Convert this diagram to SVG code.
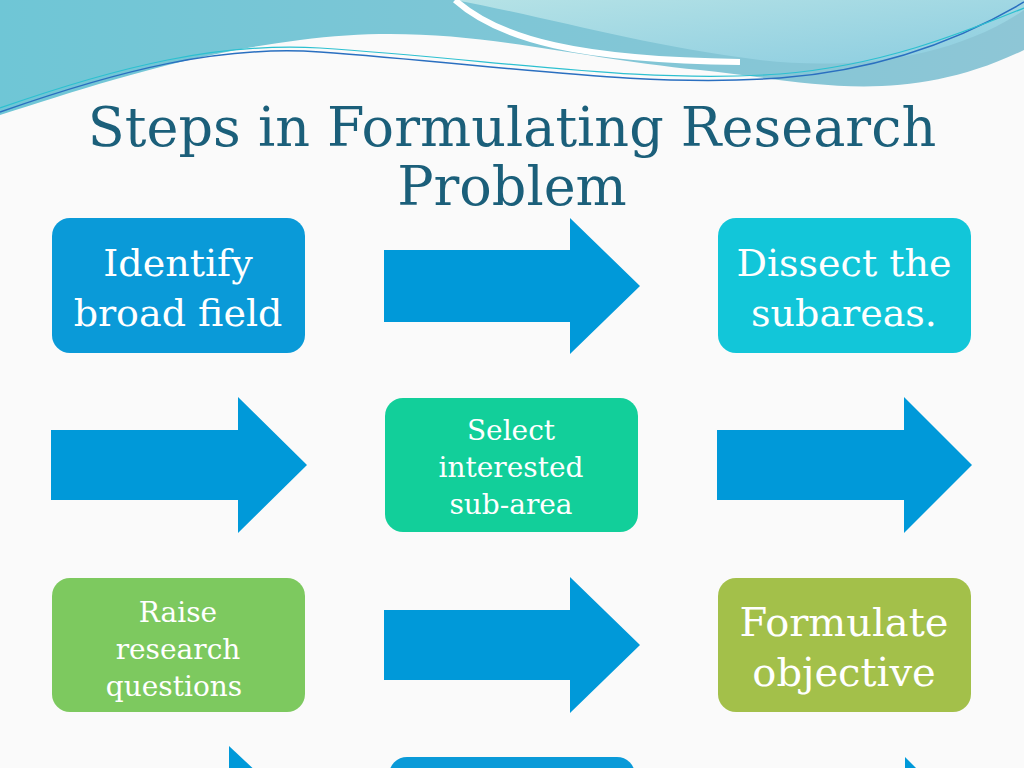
<svg xmlns="http://www.w3.org/2000/svg" width="1024" height="768" viewBox="0 0 1024 768">
<defs>
<linearGradient id="w1" x1="0" y1="0" x2="1" y2="0"><stop offset="0" stop-color="#6fc6d6"/><stop offset="1" stop-color="#8ec6d6"/></linearGradient>
<linearGradient id="w2" x1="0" y1="0" x2="1" y2="1"><stop offset="0" stop-color="#b5e2e6"/><stop offset="1" stop-color="#8ccde0"/></linearGradient>
<style>
.t{font-family:"DejaVu Serif","Liberation Serif",serif;fill:#fff;text-anchor:middle}
.ar{fill:#0099d9}
</style>
</defs>
<rect width="1024" height="768" fill="#fafafa"/>
<g id="bg">
<path d="M0,0 H1024 V50 C900,110 800,80 700,70 C550,55 450,20 300,40 C180,55 80,90 0,115 Z" fill="url(#w1)"/>
<path d="M455,0 H1024 V10 C950,60 850,70 760,60 C640,45 560,20 455,0 Z" fill="url(#w2)"/>
<path d="M455,0 C500,40 580,60 740,62" fill="none" stroke="#fff" stroke-width="6"/>
<path d="M0,112 C120,70 220,45 320,52 C500,65 640,88 780,78 C880,70 960,40 1024,2" fill="none" stroke="#2a6fc0" stroke-width="1.5"/>
<path d="M0,108 C120,66 220,42 320,48 C500,60 640,84 780,74 C880,66 960,34 1024,8" fill="none" stroke="#2cc0d0" stroke-width="1.2"/>
</g>
<g id="title" font-family="DejaVu Serif,Liberation Serif,serif" fill="#1b5f7a" text-anchor="middle" font-size="54">
<text x="512" y="146">Steps in Formulating Research</text>
<text x="512" y="205">Problem</text>
</g>
<g id="connectors">
<path class="ar" d="M384,250 H570 V218 L640,286 L570,354 V322 H384 Z"/>
<path class="ar" d="M51,430 H238 V397 L307,465 L238,533 V500 H51 Z"/>
<path class="ar" d="M717,430 H904 V397 L972,465 L904,533 V500 H717 Z"/>
<path class="ar" d="M384,610 H570 V577 L640,645 L570,713 V680 H384 Z"/>
<path class="ar" d="M229,746 L260,775 H229 Z"/>
<path class="ar" d="M905,757 L918,770 H905 Z"/>
</g>
<g id="n1"><rect x="52" y="218" width="253" height="135" rx="18" fill="#0a9ad8"/>
<text class="t" font-size="38" x="178" y="276">Identify</text><text class="t" font-size="38" x="178" y="326">broad field</text></g>
<g id="n2"><rect x="718" y="218" width="253" height="135" rx="18" fill="#12c6d9"/>
<text class="t" font-size="38" x="844" y="276">Dissect the</text><text class="t" font-size="38" x="844" y="326">subareas.</text></g>
<g id="n3"><rect x="385" y="398" width="253" height="134" rx="18" fill="#12cf9a"/>
<text class="t" font-size="28" x="511" y="440">Select</text><text class="t" font-size="28" x="511" y="477">interested</text><text class="t" font-size="28" x="511" y="514">sub-area</text></g>
<g id="n4"><rect x="52" y="578" width="253" height="134" rx="18" fill="#7dc95f"/>
<text class="t" font-size="28" x="178" y="622">Raise</text><text class="t" font-size="28" x="178" y="659">research</text><text class="t" font-size="28" x="174" y="696">questions</text></g>
<g id="n5"><rect x="718" y="578" width="253" height="134" rx="18" fill="#a3c04a"/>
<text class="t" font-size="40" x="844" y="636">Formulate</text><text class="t" font-size="40" x="844" y="686">objective</text></g>
<g id="n6"><rect x="389" y="757" width="246" height="40" rx="18" fill="#0a9ad8"/></g>
</svg>
